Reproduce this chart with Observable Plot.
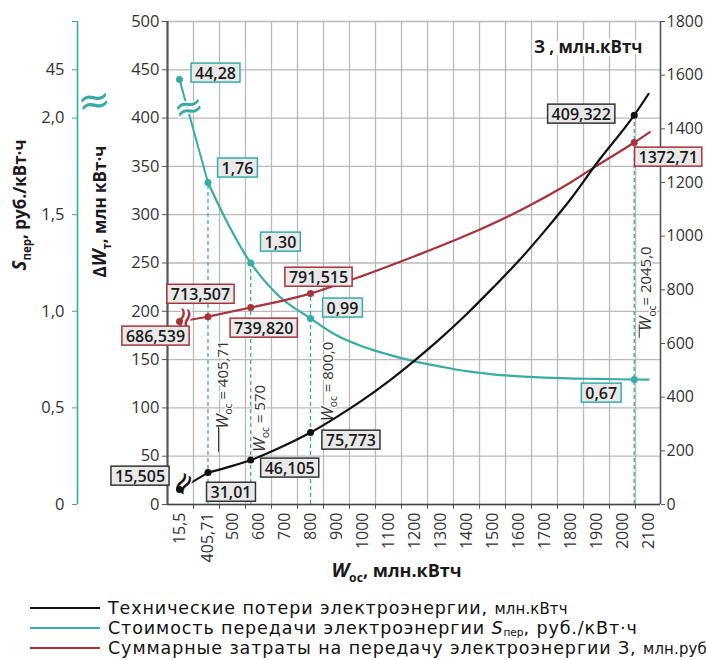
<!DOCTYPE html>
<html><head><meta charset="utf-8">
<script src="https://cdn.jsdelivr.net/npm/d3@7"></script>
<script src="https://cdn.jsdelivr.net/npm/@observablehq/plot@0.6"></script>
<style>
body{margin:0;background:#fff;font-family:"Open Sans",sans-serif;}
#legend{margin:8px 0 0 30px;font-family:"DejaVu Sans",sans-serif;font-size:17.5px;letter-spacing:0.9px;color:#111;}
.row{height:20px;line-height:20px;white-space:nowrap;display:flex;align-items:center}
.sw{display:inline-block;width:70px;height:2.5px;margin-right:8px;flex:none}
.small{font-family:"DejaVu Sans Condensed","DejaVu Sans",sans-serif;font-stretch:condensed;font-size:16.5px;letter-spacing:0.2px}
sub{font-size:10.5px;vertical-align:-2px;line-height:0;letter-spacing:0}
</style></head><body><div id="chart"></div><div id="legend"></div>
<script>
// ---------- data ----------
const markedW      = [15.5, 405.71, 570, 800, 2045];
const lossAtMarks  = [15.5, 33, 46, 74.5, 403];          // ΔWт, млн кВт·ч
const lossLabels   = ["15,505", "31,01", "46,105", "75,773", "409,322"];
const costAtMarks  = [44.0, 1.667, 1.25, 0.963, 0.647];   // Sпер, руб./кВт·ч
const costLabels   = ["44,28", "1,76", "1,30", "0,99", "0,67"];
const totalAtMarks = [682, 700, 734, 786, 1349];          // З, млн.руб
const totalLabels  = ["686,539", "713,507", "739,820", "791,515", "1372,71"];

const lossW  = [405.71, 500, 570, 700, 800, 900, 1000, 1100, 1200, 1300, 1400, 1500, 1600, 1700, 1800, 1900, 2045, 2100];
const lossV  = [33, 40, 46, 61, 74.5, 90.5, 108, 127.5, 149, 172, 197, 224, 252, 283, 316, 353, 403, 425];
const costW  = [405.71, 480, 570, 670, 800, 900, 1000, 1100, 1200, 1300, 1400, 1500, 1700, 1900, 2045, 2100];
const costS  = [1.667, 1.46, 1.25, 1.09, 0.963, 0.876, 0.818, 0.776, 0.741, 0.714, 0.69, 0.674, 0.657, 0.65, 0.647, 0.646];
const totalW = [405.71, 570, 800, 1000, 1200, 1400, 1600, 1800, 1900, 2045, 2105];
const totalZ = [700, 734, 786, 852, 925, 1003, 1093, 1200, 1262, 1349, 1388];

const xTicks      = [15.5, 405.71, 500, 600, 700, 800, 900, 1000, 1100, 1200, 1300, 1400, 1500, 1600, 1700, 1800, 1900, 2000, 2100];
const xTickLabels = ["15,5", "405,71", "500", "600", "700", "800", "900", "1000", "1100", "1200", "1300", "1400", "1500", "1600", "1700", "1800", "1900", "2000", "2100"];
const gridW       = [350, 450, 550, 650, 750, 850, 950, 1050, 1150, 1250, 1350, 1450, 1550, 1650, 1750, 1850, 1950, 2050];
const leftTicks   = [0, 50, 100, 150, 200, 250, 300, 350, 400, 450, 500];
const sTicks      = [0, 0.5, 1.0, 1.5, 2.0, 45, 50];
const sTickLabels = ["0", "0,5", "1,0", "1,5", "2,0", "45", ""];
const rightTicks  = [0, 200, 400, 600, 800, 1000, 1200, 1400, 1600, 1800];
const wocLabels   = ["W_{ос} = 405,71", "W_{ос} = 570", "W_{ос} = 800,0", "W_{ос}= 2045,0"];

const legendItems = [
  {key: "loss",  text: "Технические потери электроэнергии, ", unit: "млн.кВтч"},
  {key: "cost",  text: "Стоимость передачи электроэнергии <i>S</i><sub>пер</sub>, руб./кВт·ч", unit: ""},
  {key: "total", text: "Суммарные затраты на передачу электроэнергии З, ", unit: "млн.руб"}
];

// ---------- styles ----------
const TEAL = "#36aca5", RED = "#a7343a", BLK = "#111", GRID = "#b9b9b9";
const COLORS = {loss: BLK, cost: TEAL, total: RED};

// axis conversions (broken S axis & right З axis share the main y scale)
const sToY = s => s > 10 ? s * 10 : s * 200;
const zToY = z => z / 3.6;

const lossLine  = lossW.map((W, i) => ({W, y: lossV[i]}));
const costLine  = costW.map((W, i) => ({W, y: sToY(costS[i])}));
const totalLine = totalW.map((W, i) => ({W, y: zToY(totalZ[i])}));
const lossPts  = markedW.map((W, i) => ({W, y: lossAtMarks[i], label: lossLabels[i]}));
const costPts  = markedW.map((W, i) => ({W, y: sToY(costAtMarks[i]), label: costLabels[i]}));
const totalPts = markedW.map((W, i) => ({W, y: zToY(totalAtMarks[i]), label: totalLabels[i]}));
const dashed = markedW.slice(1).map((W, k) => ({W, top: Math.max(lossPts[k+1].y, costPts[k+1].y, totalPts[k+1].y)}));
const sLabelByY = new Map(sTicks.map((s, i) => [sToY(s), sTickLabels[i]]));

// label placement (pixels, relative to point)
const lossOff  = [[-39.5, -13], [23, 20], [39, 8.4], [40.4, 8], [-53, -0.7]];
const costOff  = [[36, -6], [29.5, -14], [29.7, -20.5], [32, -10], [-33, 14]];
const totalOff = [[-24, 15], [-7.5, -22], [13, 21], [8, -16], [4.3, 15, "start"]];
const wocOff   = [[15.5, -120], [9.7, -86], [17.4, -123], [12.3, -216]];

function boxLabels(pts, offs) {
  return pts.map((p, i) => Plot.text([p], {
    x: "W", y: "y", text: "label", dx: offs[i][0], dy: offs[i][1],
    textAnchor: offs[i][2] || "middle", fontSize: 16, fontWeight: 600, fill: "#1a1a1a"
  }));
}
function squiggle(p, dx, dy, rotate, size, color) {
  return Plot.text([p], {x: "W", y: "y", text: () => "≈", dx, dy, rotate, fontSize: size,
    fill: color, stroke: "white", strokeWidth: 3, paintOrder: "stroke", fontFamily: "DejaVu Sans"});
}

const plot = Plot.plot({
  width: 706, height: 590,
  marginLeft: 167, marginRight: 46, marginTop: 21, marginBottom: 86,
  style: {fontFamily: "Open Sans", fontSize: "16px", background: "#fff", overflow: "visible"},
  x: {type: "linear", domain: [0, 15.5, 300, 2146], range: [167, 179, 180, 660], axis: null},
  y: {type: "linear", domain: [0, 500]},
  marks: [
    // grid
    Plot.ruleY(leftTicks, {stroke: GRID, strokeWidth: 1.3}),
    Plot.ruleX(gridW, {y1: 0, y2: 500, stroke: GRID, strokeWidth: 1.3}),
    Plot.ruleX(gridW, {y1: 0, y2: -5, stroke: "#555", strokeWidth: 1}),
    // frame
    Plot.ruleY([0], {stroke: "#444", strokeWidth: 1.6}),
    Plot.ruleX([0], {y1: 0, y2: 500, stroke: "#555", strokeWidth: 2.2}),
    Plot.ruleX([2146], {y1: 0, y2: 500, stroke: "#555", strokeWidth: 1.6}),
    // axes
    Plot.axisY(leftTicks, {anchor: "left", tickSize: 5, tickPadding: 3, stroke: "#555", fill: "#333",
      fontSize: 16.5, label: null, tickFormat: d => String(d)}),
    Plot.axisY(rightTicks.map(zToY), {anchor: "right", tickSize: 4, tickPadding: 2, stroke: "#555", fill: "#333",
      fontSize: 16, label: null, tickFormat: d => String(Math.round(d * 3.6))}),
    Plot.ruleX([0], {y1: 0, y2: 500, dx: -90, stroke: TEAL, strokeWidth: 1.6}),
    Plot.axisY(sTicks.map(sToY), {anchor: "left", dx: -90, tickSize: 5, tickPadding: 8, stroke: TEAL, fill: "#333",
      fontSize: 16.5, label: null, tickFormat: d => sLabelByY.get(d)}),
    Plot.text(["≈"], {frameAnchor: "left", dx: -90, dy: 103 - 262.5, fontSize: 40, fill: TEAL,
      stroke: "white", strokeWidth: 3, paintOrder: "stroke", rotate: -8, fontFamily: "DejaVu Sans"}),
    Plot.text(xTicks, {x: d => d, y: 0, text: (d, i) => xTickLabels[i], rotate: -90, textAnchor: "end",
      dy: 8, fontSize: 16, fill: "#333"}),
    // dashed guides
    Plot.ruleX(dashed, {x: "W", y1: 0, y2: "top", stroke: TEAL, strokeWidth: 1.3, strokeDasharray: "4,3"}),
    // vertical W labels
    ...markedW.slice(1).map((W, k) => Plot.text([W], {x: d => d, y: 0, text: () => wocLabels[k],
      dx: wocOff[k][0], dy: wocOff[k][1], rotate: -90, fontSize: 15, fill: "#333",
      stroke: "white", strokeWidth: 3, paintOrder: "stroke"})),
    Plot.ruleX([markedW[1]], {y1: 54, y2: 80, dx: 10.5, stroke: "#333", strokeWidth: 1}),
    Plot.ruleX([markedW[4]], {y1: 172, y2: 186, dx: 5, stroke: "#333", strokeWidth: 1}),
    // curves: broken first segments
    Plot.line(lossPts.slice(0, 2), {x: "W", y: "y", stroke: BLK, strokeWidth: 2}),
    Plot.line(costPts.slice(0, 2), {x: "W", y: "y", stroke: TEAL, strokeWidth: 2}),
    Plot.line(totalPts.slice(0, 2), {x: "W", y: "y", stroke: RED, strokeWidth: 2}),
    squiggle(lossPts[0], 4, -6, -60, 30, BLK),
    squiggle(costPts[0], 9, 28, -15, 36, TEAL),
    squiggle(totalPts[0], 5, -3, -80, 30, RED),
    // main curves
    Plot.line(costLine, {x: "W", y: "y", stroke: TEAL, strokeWidth: 2.2, curve: "monotone-x"}),
    Plot.line(totalLine, {x: "W", y: "y", stroke: RED, strokeWidth: 2.2, curve: "monotone-x"}),
    Plot.line(lossLine, {x: "W", y: "y", stroke: BLK, strokeWidth: 2.2, curve: "monotone-x"}),
    Plot.dot(costPts, {x: "W", y: "y", r: 3.5, fill: TEAL}),
    Plot.dot(totalPts, {x: "W", y: "y", r: 3.5, fill: RED}),
    Plot.dot(lossPts, {x: "W", y: "y", r: 3.5, fill: BLK}),
    // titles
    Plot.text(["З , млн.кВтч"], {frameAnchor: "top-right", textAnchor: "end", dx: -18, dy: 19,
      fontSize: 17, fontWeight: 700, fill: "#1a1a1a", stroke: "white", strokeWidth: 6, paintOrder: "stroke"}),
    Plot.text(["S_{пер}, руб./кВт·ч"], {frameAnchor: "left", dx: -147, dy: 7.5, rotate: -90,
      fontSize: 17, fontWeight: 700, fill: "#1a1a1a"}),
    Plot.text(["ΔW_{т}, млн кВт·ч"], {frameAnchor: "left", dx: -67, dy: 14.5, rotate: -90,
      fontSize: 17, fontWeight: 700, fill: "#1a1a1a"}),
    Plot.text(["W_{ос}, млн.кВтч"], {frameAnchor: "bottom", dx: -17.5, dy: 72,
      fontSize: 18, fontWeight: 700, fill: "#1a1a1a"}),
    // boxed value labels
    ...boxLabels(lossPts, lossOff),
    ...boxLabels(costPts, costOff),
    ...boxLabels(totalPts, totalOff)
  ]
});
document.getElementById("chart").appendChild(plot);

// subscript / italic markup: X_{sub}
const NS = "http://www.w3.org/2000/svg";
plot.querySelectorAll("text").forEach(t => {
  const s = t.textContent;
  const m = s.match(/^(.*?)([A-Za-z])_\{([^}]*)\}(.*)$/);
  if (!m) return;
  const fs = parseFloat(getComputedStyle(t).fontSize) || 16;
  t.textContent = "";
  const add = (txt, attrs) => {
    const sp = document.createElementNS(NS, "tspan");
    sp.textContent = txt;
    for (const k in attrs) sp.setAttribute(k, attrs[k]);
    t.appendChild(sp);
  };
  if (m[1]) add(m[1], {});
  add(m[2], {"font-style": "italic", "font-size": fs * 1.1});
  add(m[3], {"font-size": fs * 0.68, dy: fs * 0.28});
  add(m[4], {dy: -fs * 0.28});
});

// boxes behind value labels
const boxColor = new Map([
  ...lossLabels.map(l => [l, "#333"]),
  ...costLabels.map(l => [l, TEAL]),
  ...totalLabels.map(l => [l, RED])
]);
plot.querySelectorAll("text").forEach(t => {
  const c = boxColor.get(t.textContent);
  if (!c) return;
  const bb = t.getBBox();
  const r = document.createElementNS(NS, "rect");
  r.setAttribute("x", bb.x - 4); r.setAttribute("y", bb.y + 1.5);
  r.setAttribute("width", bb.width + 8); r.setAttribute("height", bb.height - 3);
  r.setAttribute("fill", "#e9e9e9"); r.setAttribute("stroke", c);
  r.setAttribute("stroke-width", 1.5);
  if (t.getAttribute("transform")) r.setAttribute("transform", t.getAttribute("transform"));
  t.parentNode.insertBefore(r, t);
});

// legend
const leg = document.getElementById("legend");
legendItems.forEach(it => {
  const row = document.createElement("div");
  row.className = "row";
  row.innerHTML = `<span class="sw" style="background:${COLORS[it.key]}"></span><span>${it.text}${it.unit ? `<span class="small">${it.unit}</span>` : ""}</span>`;
  leg.appendChild(row);
});
</script></body></html>
